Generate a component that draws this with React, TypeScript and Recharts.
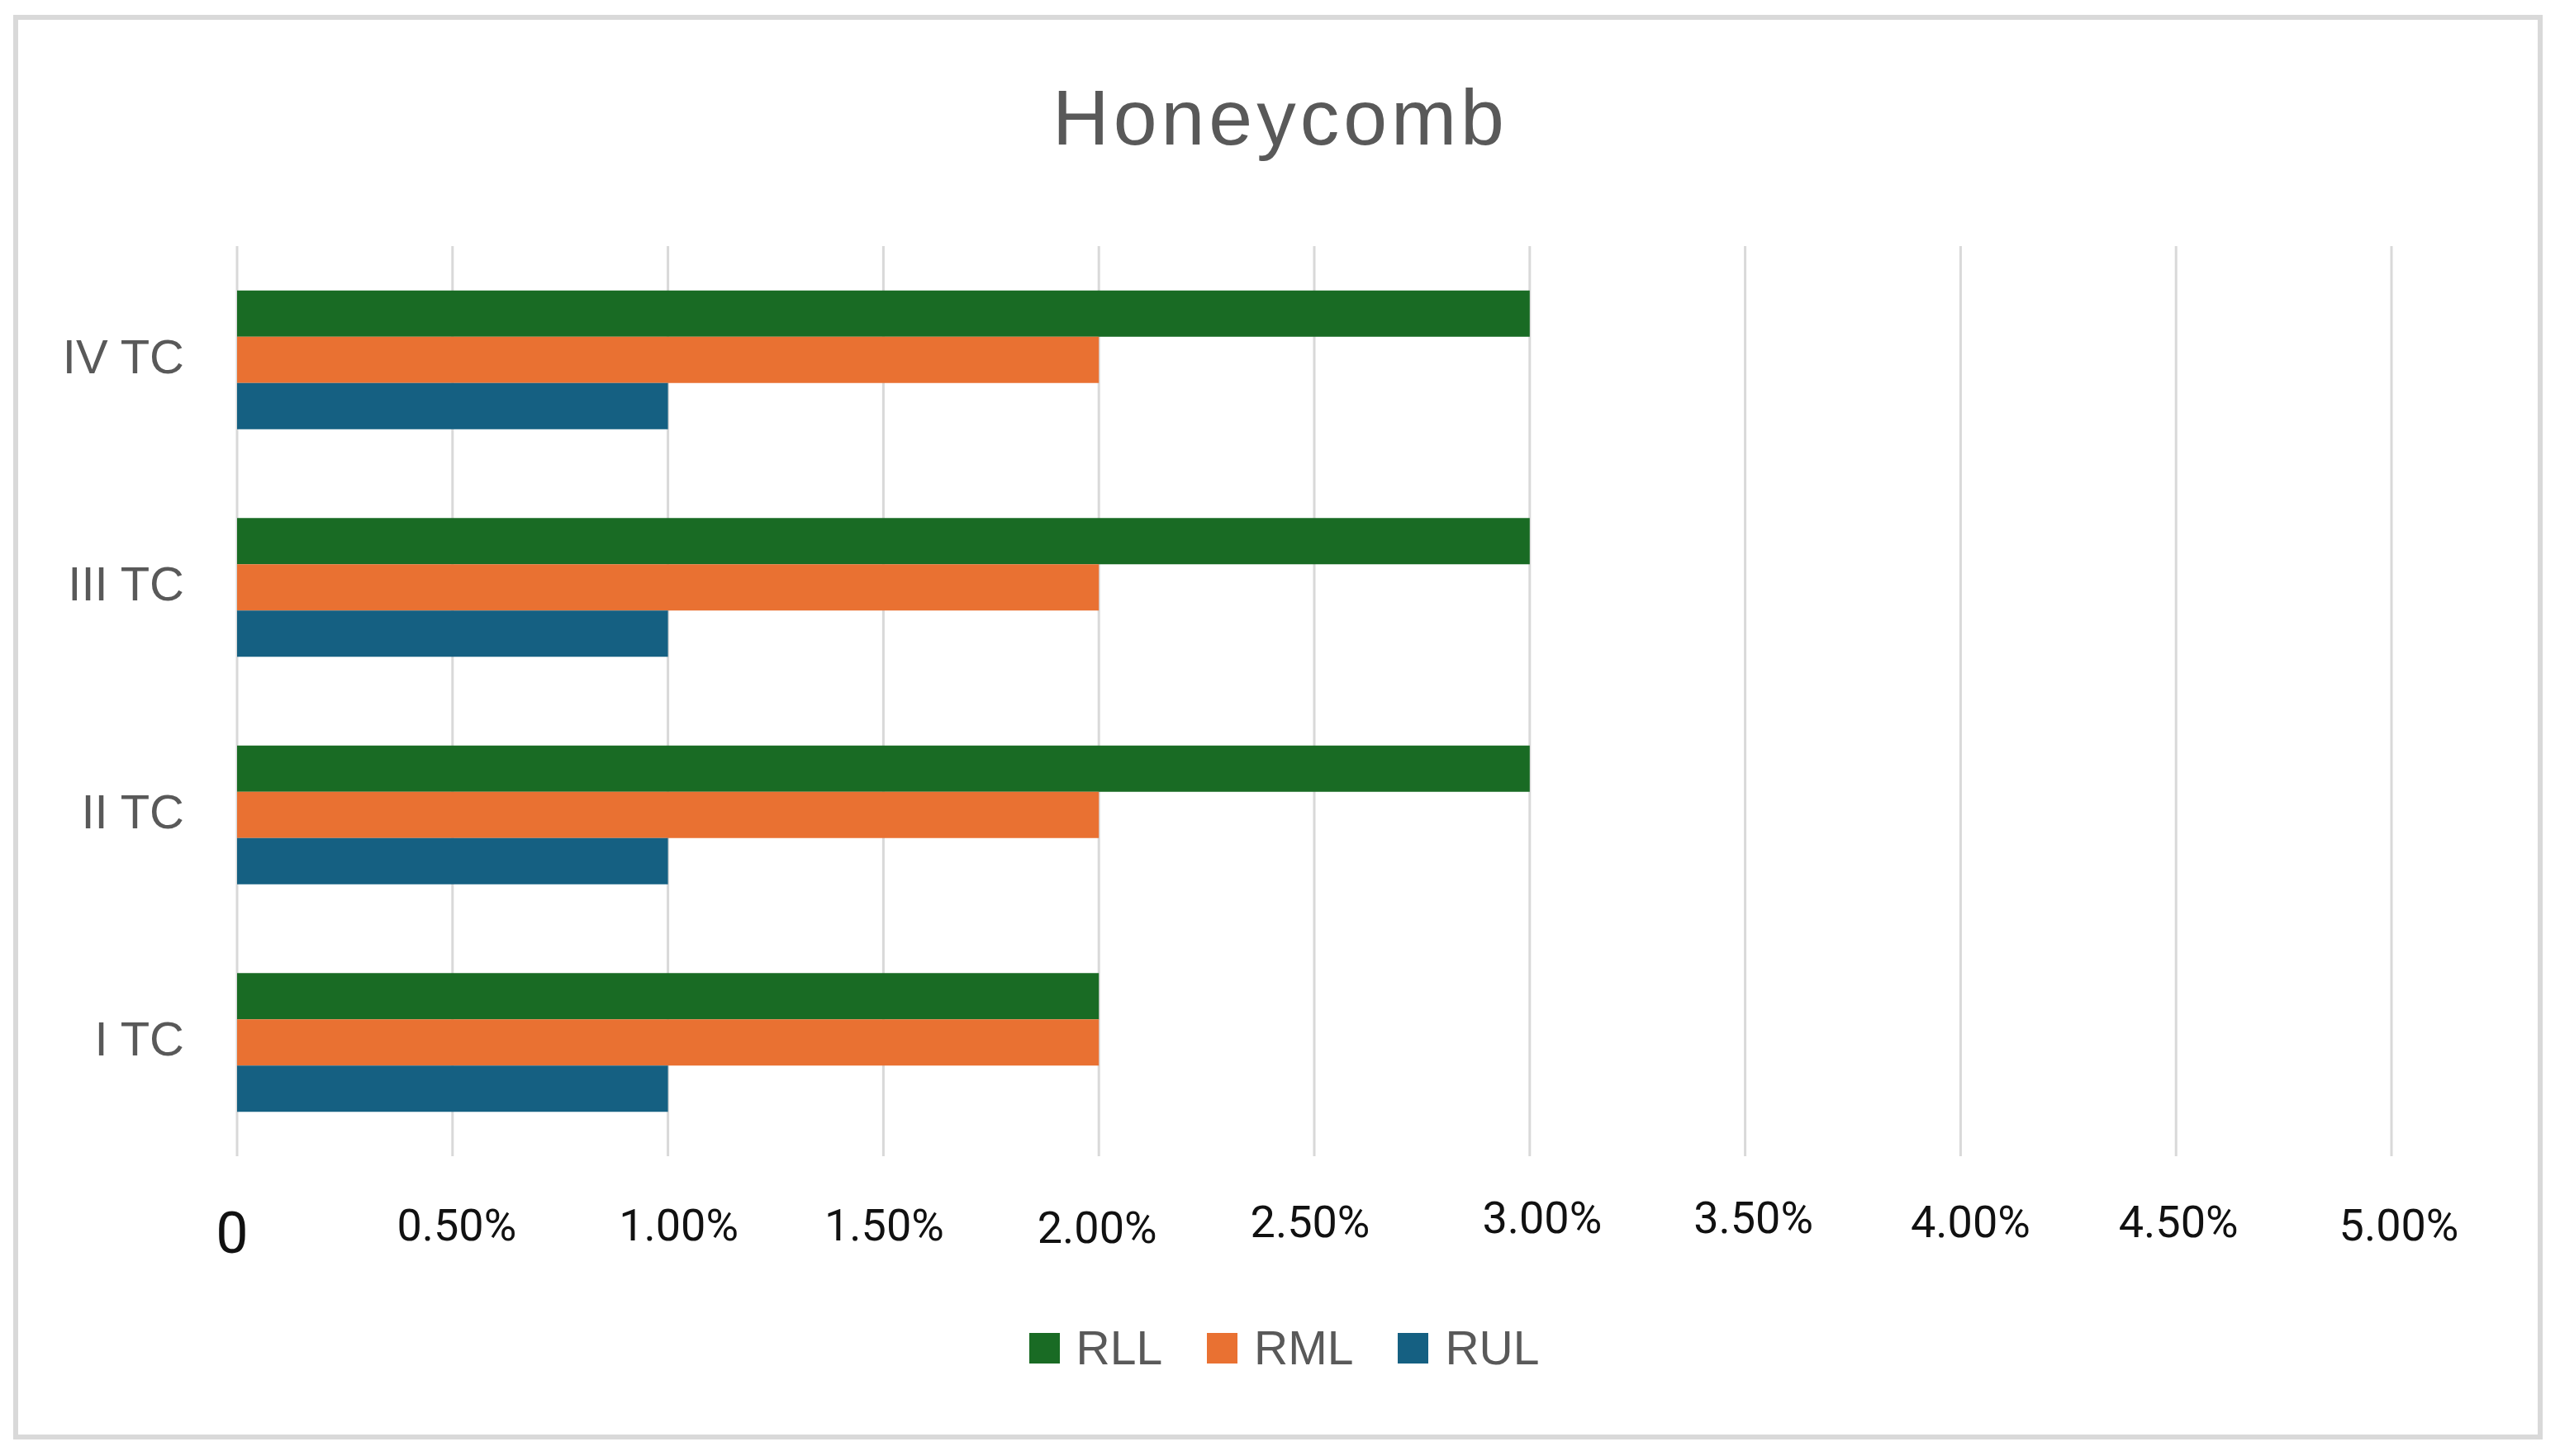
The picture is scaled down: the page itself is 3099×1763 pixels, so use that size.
import React from 'react';
import { BarChart, Bar, XAxis, YAxis, CartesianGrid, Legend } from 'recharts';

// ---- data ----
const categories = ['IV TC', 'III TC', 'II TC', 'I TC'];
const rllValues = [0.03, 0.03, 0.03, 0.02];
const rmlValues = [0.02, 0.02, 0.02, 0.02];
const rulValues = [0.01, 0.01, 0.01, 0.01];
const xTicks = [0, 0.005, 0.01, 0.015, 0.02, 0.025, 0.03, 0.035, 0.04, 0.045, 0.05];
const xTickLabels = ['0', '0.50%', '1.00%', '1.50%', '2.00%', '2.50%', '3.00%', '3.50%', '4.00%', '4.50%', '5.00%'];
const seriesNames = ['RLL', 'RML', 'RUL'];
const titleText = 'Honeycomb';

// ---- styles ----
const seriesColors = ['#196B24', '#E97132', '#156082'];
const TICK_NUDGE_X = [-6, 5, 13, 1, -2, -5, 15, 10, 12, 3, 9];
const TICK_NUDGE_Y = [109, 94, 94, 94, 97, 90, 85, 85, 90, 90, 94];

const W = 3099;
const H = 1763;

const data = categories.map((c, i) => ({
  name: c,
  RLL: rllValues[i],
  RML: rmlValues[i],
  RUL: rulValues[i],
}));
const seriesValues: Record<string, number[]> = { RLL: rllValues, RML: rmlValues, RUL: rulValues };

const XTick = (props: any) => {
  const { x, y, payload } = props;
  const i = xTicks.findIndex((t) => Math.abs(t - payload.value) < 1e-9);
  if (i < 0) return null;
  const isZero = i === 0;
  return (
    <text
      x={x + TICK_NUDGE_X[i]}
      y={y + TICK_NUDGE_Y[i]}
      textAnchor="middle"
      fontFamily="Roboto"
      fontSize={isZero ? 70 : 54}
      fill="#111111"
    >
      {xTickLabels[i]}
    </text>
  );
};

const YTick = (props: any) => {
  const { x, y, payload } = props;
  return (
    <text
      x={x}
      y={y + 16}
      textAnchor="end"
      fontFamily="'Liberation Sans', Arial, sans-serif"
      fontSize={58}
      fill="#595959"
    >
      {payload.value}
    </text>
  );
};

const renderLegend = (props: any) => {
  const payload = props.payload || [];
  return (
    <div
      style={{
        height: 100,
        display: 'flex',
        alignItems: 'center',
        justifyContent: 'center',
        paddingLeft: 10,
        boxSizing: 'border-box',
      }}
    >
      {payload.map((p: any, i: number) => (
        <div key={p.value} style={{ display: 'flex', alignItems: 'center', marginLeft: i ? 54 : 0 }}>
          <span style={{ display: 'inline-block', width: 37, height: 37, background: p.color, marginRight: 20 }} />
          <span
            style={{
              fontFamily: "'Liberation Sans', Arial, sans-serif",
              fontSize: 57,
              color: '#595959',
              lineHeight: 1,
            }}
          >
            {p.value}
          </span>
        </div>
      ))}
    </div>
  );
};

export default function App() {
  return (
    <div style={{ position: 'absolute', left: 0, top: 0, width: W, height: H, background: '#ffffff' }}>
      <BarChart
        width={W}
        height={H}
        data={data}
        layout="vertical"
        margin={{ top: 298, right: 204, left: 0, bottom: 81 }}
        barCategoryGap="19.5%"
        barGap={0}
      >
        <CartesianGrid horizontal={false} vertical={true} stroke="#d9d9d9" strokeWidth={3} />
        <XAxis
          type="number"
          domain={[0, 0.05]}
          ticks={xTicks}
          interval={0}
          axisLine={false}
          tickLine={false}
          height={182}
          tick={<XTick />}
        />
        <YAxis
          type="category"
          dataKey="name"
          width={287}
          axisLine={false}
          tickLine={false}
          tickMargin={58}
          interval={0}
          tick={<YTick />}
        />
        <Legend
          verticalAlign="bottom"
          content={renderLegend}
          wrapperStyle={{ left: 0, width: W }}
        />
        {seriesNames.map((s, i) => (
          <Bar key={s} dataKey={s} name={s} fill={seriesColors[i]} isAnimationActive={false} />
        ))}
      </BarChart>
      <svg
        width={W}
        height={H}
        style={{ position: 'absolute', left: 0, top: 0, pointerEvents: 'none' }}
      >
        <text
          x={1550}
          y={175}
          textAnchor="middle"
          fontFamily="'Liberation Sans', Arial, sans-serif"
          fontSize={95}
          letterSpacing={5}
          fill="#595959"
        >
          {titleText}
        </text>
      </svg>
      <div
        style={{
          position: 'absolute',
          left: 16,
          top: 18,
          width: 3062,
          height: 1725,
          border: '6px solid #d9d9d9',
          boxSizing: 'border-box',
          pointerEvents: 'none',
        }}
      />
    </div>
  );
}
